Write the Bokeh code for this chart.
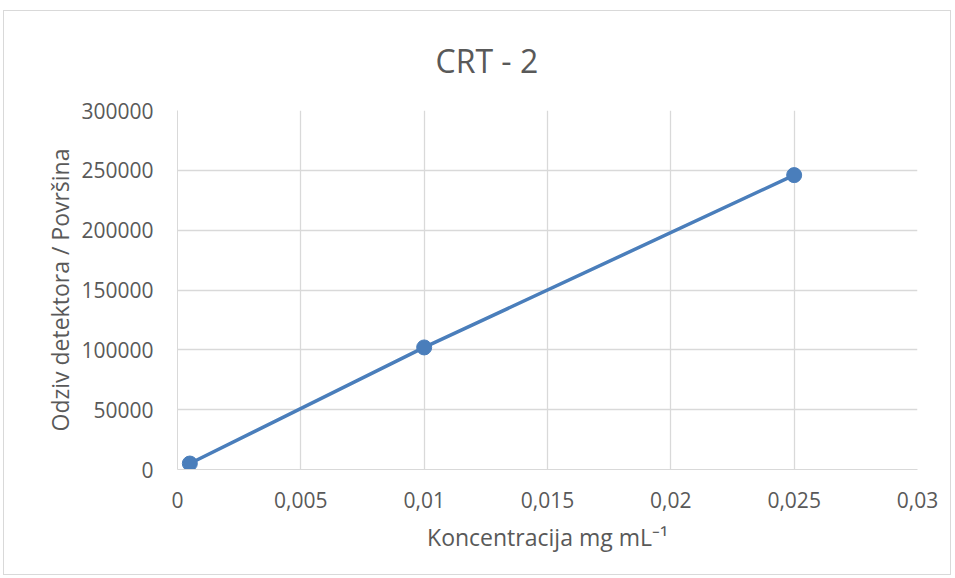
from bokeh.plotting import figure
from bokeh.models import FixedTicker, Range1d
from bokeh.embed import file_html
from bokeh.resources import INLINE

# Data
conc = [0.0005, 0.01, 0.025]
response = [5000, 102000, 246000]

x_ticks = [0, 0.005, 0.01, 0.015, 0.02, 0.025, 0.03]
x_tick_labels = ["0", "0,005", "0,01", "0,015", "0,02", "0,025", "0,03"]
y_ticks = [0, 50000, 100000, 150000, 200000, 250000, 300000]
y_tick_labels = ["0", "50000", "100000", "150000", "200000", "250000", "300000"]

title_text = "CRT - 2"
x_label = "Koncentracija mg mL\u207b\u00b9"
y_label = "Odziv detektora / Površina"

FONT = "Open Sans"
TXT = "#595959"
GRID = "#d9d9d9"
BLUE = "#4a7ebb"

p = figure(width=948, height=565, output_backend="svg", toolbar_location=None,
           x_range=Range1d(0, 0.03), y_range=Range1d(0, 300000),
           min_border_left=173, min_border_right=35, min_border_top=99,
           min_border_bottom=107)

p.title.text = title_text
p.title.align = "left"
p.title.vertical_align = "top"
p.title.text_font = FONT
p.title.text_font_size = "32px"
p.title.text_font_style = "normal"
p.title.text_color = TXT
p.title.offset = 258
p.title.standoff = 54

p.outline_line_color = None
p.border_fill_color = "white"
p.background_fill_color = "white"

p.xaxis.ticker = FixedTicker(ticks=x_ticks)
p.yaxis.ticker = FixedTicker(ticks=y_ticks)
p.xaxis.major_label_overrides = {t: l for t, l in zip(x_ticks, x_tick_labels)}
p.yaxis.major_label_overrides = {t: l for t, l in zip(y_ticks, y_tick_labels)}

for ax in (p.xaxis, p.yaxis):
    ax.major_tick_line_color = None
    ax.minor_tick_line_color = None
    ax.axis_line_color = GRID
    ax.major_label_text_font = FONT
    ax.major_label_text_font_size = "21px"
    ax.major_label_text_color = TXT
    ax.axis_label_text_font = FONT
    ax.axis_label_text_font_size = "23px"
    ax.axis_label_text_color = TXT
    ax.axis_label_text_font_style = "normal"

p.xaxis.axis_label = x_label
p.yaxis.axis_label = y_label
p.xaxis.major_label_standoff = 16
p.yaxis.major_label_standoff = 18
p.xaxis.axis_label_standoff = 10
p.yaxis.axis_label_standoff = 2

p.xgrid.grid_line_color = GRID
p.ygrid.grid_line_color = GRID
p.xgrid.grid_line_width = 1.3
p.ygrid.grid_line_width = 1.3

p.line(conc, response, line_color=BLUE, line_width=3.5)
p.scatter(conc, response, size=15, fill_color=BLUE, line_color=BLUE)

p.styles = {"border": "1px solid #d9d9d9", "margin-left": "3px", "margin-top": "10px"}

open("out.html", "w").write(file_html(p, INLINE))
